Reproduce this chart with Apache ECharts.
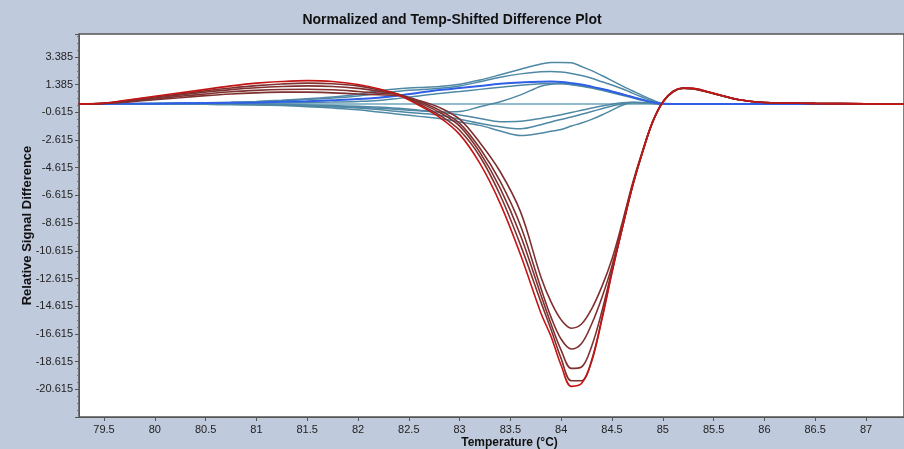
<!DOCTYPE html>
<html>
<head>
<meta charset="utf-8">
<script src="https://cdn.jsdelivr.net/npm/echarts@6/dist/echarts.min.js"></script>
<style>
  html, body { margin: 0; padding: 0; background: #c0cadd; }
  #plot { width: 904px; height: 449px; }
</style>
</head>
<body>
<div id="plot"></div>
<script>
var chartDom = document.getElementById('plot');
var myChart = echarts.init(chartDom);
var option;

// temperatures (°C) shared by all curves
var temps = [79.25, 79.5, 79.75, 80, 80.25, 80.5, 80.75, 81, 81.25, 81.5, 81.75, 82, 82.2, 82.4, 82.6, 82.8,
  83, 83.2, 83.4, 83.6, 83.8, 83.9, 84, 84.1, 84.2, 84.3, 84.4, 84.5, 84.6, 84.7, 84.8, 84.9,
  85, 85.1, 85.2, 85.3, 85.5, 85.75, 86, 86.5, 87, 87.4];

// y tick labels start here and step by 2
var yFirstTick = -22.615;
var yTickStep = 2;

// red group (deep dip at 84)
var red1 = [0, 0.05, 0.3, 0.55, 0.8, 1.05, 1.3, 1.5, 1.62, 1.68, 1.62, 1.4, 1.1, 0.65, -0.1, -0.95,
  -2.2, -4.3, -7.2, -10.9, -15.1, -16.8, -18.9, -20.4, -20.2, -18.6, -15.6, -12.2, -9.0, -6.0, -3.5, -1.3,
  0.15, 0.9, 1.15, 1.12, 0.76, 0.3, 0.1, 0.04, 0, -0.03];
var red2 = [0, 0.05, 0.27, 0.5, 0.72, 0.95, 1.15, 1.32, 1.44, 1.5, 1.46, 1.3, 1.02, 0.68, 0.0, -0.8,
  -1.9, -3.8, -6.6, -10.2, -14.3, -16.3, -18.4, -20.0, -20.0, -18.5, -15.5, -12.1, -9.0, -6.0, -3.5, -1.3,
  0.15, 0.9, 1.15, 1.12, 0.76, 0.3, 0.1, 0.04, 0, -0.03];
var red3 = [0, 0.05, 0.22, 0.43, 0.65, 0.85, 1.03, 1.17, 1.26, 1.3, 1.26, 1.12, 0.92, 0.7, 0.1, -0.6,
  -1.6, -3.5, -6.1, -9.5, -13.8, -15.9, -17.8, -19.1, -19.0, -17.5, -15.0, -12.0, -9.0, -6.0, -3.5, -1.3,
  0.14, 0.9, 1.14, 1.1, 0.75, 0.3, 0.1, 0.04, 0, -0.02];
var red4 = [0, 0.04, 0.18, 0.36, 0.55, 0.72, 0.88, 0.98, 1.04, 1.06, 1.02, 0.9, 0.78, 0.66, 0.2, -0.45,
  -1.4, -3.2, -5.6, -8.8, -13.3, -15.4, -17.0, -17.7, -17.3, -15.9, -14.0, -11.7, -8.8, -5.9, -3.45, -1.3,
  0.13, 0.88, 1.13, 1.1, 0.75, 0.3, 0.1, 0.04, 0, -0.02];
var red5 = [0, 0.03, 0.15, 0.3, 0.45, 0.6, 0.72, 0.8, 0.85, 0.85, 0.8, 0.72, 0.66, 0.6, 0.25, -0.25,
  -1.1, -2.8, -4.9, -7.8, -12.5, -14.3, -15.6, -16.2, -15.9, -14.8, -13.2, -11.2, -8.6, -5.8, -3.4, -1.3,
  0.12, 0.86, 1.12, 1.08, 0.74, 0.3, 0.1, 0.04, 0, -0.02];

// blue group (small bumps up and down)
var blue1 = [0, 0, 0.02, 0.04, 0.06, 0.08, 0.12, 0.18, 0.27, 0.38, 0.5, 0.7, 0.95, 1.1, 1.18, 1.25,
  1.42, 1.72, 2.1, 2.5, 2.88, 2.99, 3.0, 2.98, 2.7, 2.4, 2.05, 1.68, 1.3, 0.95, 0.6, 0.28,
  0.03, 0, 0, 0, 0, 0, 0, 0, 0, 0];
var blue2 = [0, 0, 0.02, 0.03, 0.05, 0.07, 0.1, 0.15, 0.22, 0.32, 0.42, 0.58, 0.76, 0.92, 1.03, 1.13,
  1.3, 1.6, 1.93, 2.17, 2.32, 2.34, 2.3, 2.2, 2.05, 1.85, 1.6, 1.37, 1.1, 0.78, 0.48, 0.2,
  0.02, 0, 0, 0, 0, 0, 0, 0, 0, 0];
var blue3 = [0, 0, 0.01, 0.02, 0.04, 0.06, 0.08, 0.1, 0.15, 0.2, 0.27, 0.35, 0.45, 0.6, 0.8, 1.0,
  1.15, 1.3, 1.45, 1.55, 1.6, 1.61, 1.58, 1.5, 1.4, 1.25, 1.08, 0.9, 0.7, 0.5, 0.3, 0.12,
  0.01, 0, 0, 0, 0, 0, 0, 0, 0, 0];
var blue4 = [0, 0, 0.01, 0.01, 0.02, 0.03, 0.04, 0.05, 0.07, 0.1, 0.13, 0.18, 0.25, 0.4, 0.58, 0.76,
  0.9, 1.05, 1.2, 1.35, 1.45, 1.47, 1.45, 1.38, 1.28, 1.15, 0.98, 0.8, 0.62, 0.44, 0.26, 0.1,
  0, 0, 0, 0, 0, 0, 0, 0, 0, 0];
var blue5 = [0, 0, -0.01, -0.01, -0.02, -0.03, -0.04, -0.05, -0.08, -0.12, -0.18, -0.25, -0.32, -0.4, -0.5, -0.58,
  -0.55, -0.2, 0.15, 0.65, 1.28, 1.42, 1.47, 1.42, 1.32, 1.2, 1.05, 0.88, 0.7, 0.5, 0.3, 0.12,
  0, 0, 0, 0, 0, 0, 0, 0, 0, 0];
var flat = [0, 0, 0, 0, 0, 0, 0, 0, 0, 0, 0, 0, 0, 0, 0, 0,
  0, 0, 0, 0, 0, 0, 0, 0, 0, 0, 0, 0, 0, 0, 0, 0,
  0, 0, 0, 0, 0, 0, 0, 0, 0, 0];
var blue6 = [0, 0, 0, 0, -0.01, -0.01, -0.02, -0.03, -0.05, -0.08, -0.12, -0.17, -0.22, -0.32, -0.45, -0.58,
  -0.8, -1.05, -1.28, -1.25, -1.05, -0.92, -0.78, -0.62, -0.46, -0.3, -0.15, -0.02, 0.08, 0.12, 0.1, 0.05,
  0, 0, 0, 0, 0, 0, 0, 0, 0, 0];
var blue7 = [0, 0, 0, -0.01, -0.01, -0.02, -0.03, -0.05, -0.09, -0.14, -0.2, -0.3, -0.41, -0.55, -0.68, -0.82,
  -1.1, -1.4, -1.65, -1.79, -1.5, -1.3, -1.12, -0.95, -0.75, -0.55, -0.35, -0.15, 0.02, 0.1, 0.08, 0.04,
  0, 0, 0, 0, 0, 0, 0, 0, 0, 0];
var blue8 = [0, 0, 0, -0.01, -0.02, -0.03, -0.05, -0.07, -0.12, -0.2, -0.3, -0.42, -0.58, -0.74, -0.9, -1.06,
  -1.3, -1.55, -1.95, -2.28, -2.12, -1.98, -1.85, -1.6, -1.38, -1.12, -0.8, -0.45, -0.1, 0.08, 0.06, 0.03,
  0, 0, 0, 0, 0, 0, 0, 0, 0, 0];

var redCurves = [red2, red3, red4, red5, red1];
var redColors = ['#7f3030', '#7f3030', '#7f3030', '#7f3030', '#c41414'];
var blueCurves = [flat, blue1, blue2, blue4, blue5, blue6, blue7, blue8, blue3];
var blueColors = ['#6fa6ba', '#4f88a4', '#4f88a4', '#4f88a4', '#4f88a4', '#4f88a4', '#4f88a4', '#4f88a4', '#2f5fe6'];

function pairUp(vals){
  var out = [];
  for (let i = 0; i < temps.length; i++) {
    out.push([temps[i], vals[i]]);
  }
  return out;
}

var series = [];
for (let i = 0; i < blueCurves.length; i++) {
  series.push({
    type: 'line', data: pairUp(blueCurves[i]), showSymbol: false, smooth: 0.35,
    lineStyle: {color: blueColors[i], width: i === 8 ? 2 : 1.5}
  });
}
for (let i = 0; i < redCurves.length; i++) {
  series.push({
    type: 'line', data: pairUp(redCurves[i]), showSymbol: false, smooth: 0.35,
    lineStyle: {color: redColors[i], width: 1.6}
  });
}

option = {
  animation: false,
  backgroundColor: '#c0cadd',
  title: {
    text: 'Normalized and Temp-Shifted Difference Plot',
    left: 'center',
    top: 8,
    textStyle: {fontFamily: 'Liberation Sans', fontSize: 14, fontWeight: 'bold', color: '#111'}
  },
  grid: {
    left: 79, right: 0, top: 34, bottom: 32,
    containLabel: false,
    outerBoundsMode: 'none',
    show: true, backgroundColor: '#ffffff', borderColor: '#555', borderWidth: 1.5
  },
  xAxis: {
    type: 'value',
    min: 79.254,
    max: 87.374,
    splitNumber: 16,
    name: 'Temperature (°C)',
    nameLocation: 'middle',
    nameGap: 20,
    nameMoveOverlap: false,
    nameTextStyle: {fontFamily: 'Liberation Sans', fontSize: 12, fontWeight: 'bold', color: '#111', padding: [0, 0, 0, 36]},
    axisLine: {onZero: false, lineStyle: {color: '#555'}},
    axisTick: {length: 4, lineStyle: {color: '#555'}},
    axisLabel: {fontFamily: 'Liberation Sans', fontSize: 11, color: '#222', margin: 7, showMinLabel: false, showMaxLabel: false},
    splitLine: {show: false}
  },
  yAxis: {
    type: 'value',
    min: yFirstTick,
    max: 5.05,
    interval: yTickStep,
    name: 'Relative Signal Difference',
    nameLocation: 'middle',
    nameGap: 45,
    nameMoveOverlap: false,
    nameTextStyle: {fontFamily: 'Liberation Sans', fontSize: 13, fontWeight: 'bold', color: '#111'},
    axisLine: {show: true, onZero: false, lineStyle: {color: '#555'}},
    axisTick: {show: true, length: 4, lineStyle: {color: '#555'}},
    minorTick: {show: true, splitNumber: 4, length: 2, lineStyle: {color: '#777'}},
    axisLabel: {
      fontFamily: 'Liberation Sans', fontSize: 11, color: '#222', margin: 6,
      showMinLabel: false, showMaxLabel: false,
      formatter: function (v) {
        var k = Math.round((v - yFirstTick) / yTickStep);
        return (yFirstTick + k * yTickStep).toFixed(3);
      }
    },
    splitLine: {show: false}
  },
  series: series
};

option && myChart.setOption(option);
</script>
</body>
</html>
